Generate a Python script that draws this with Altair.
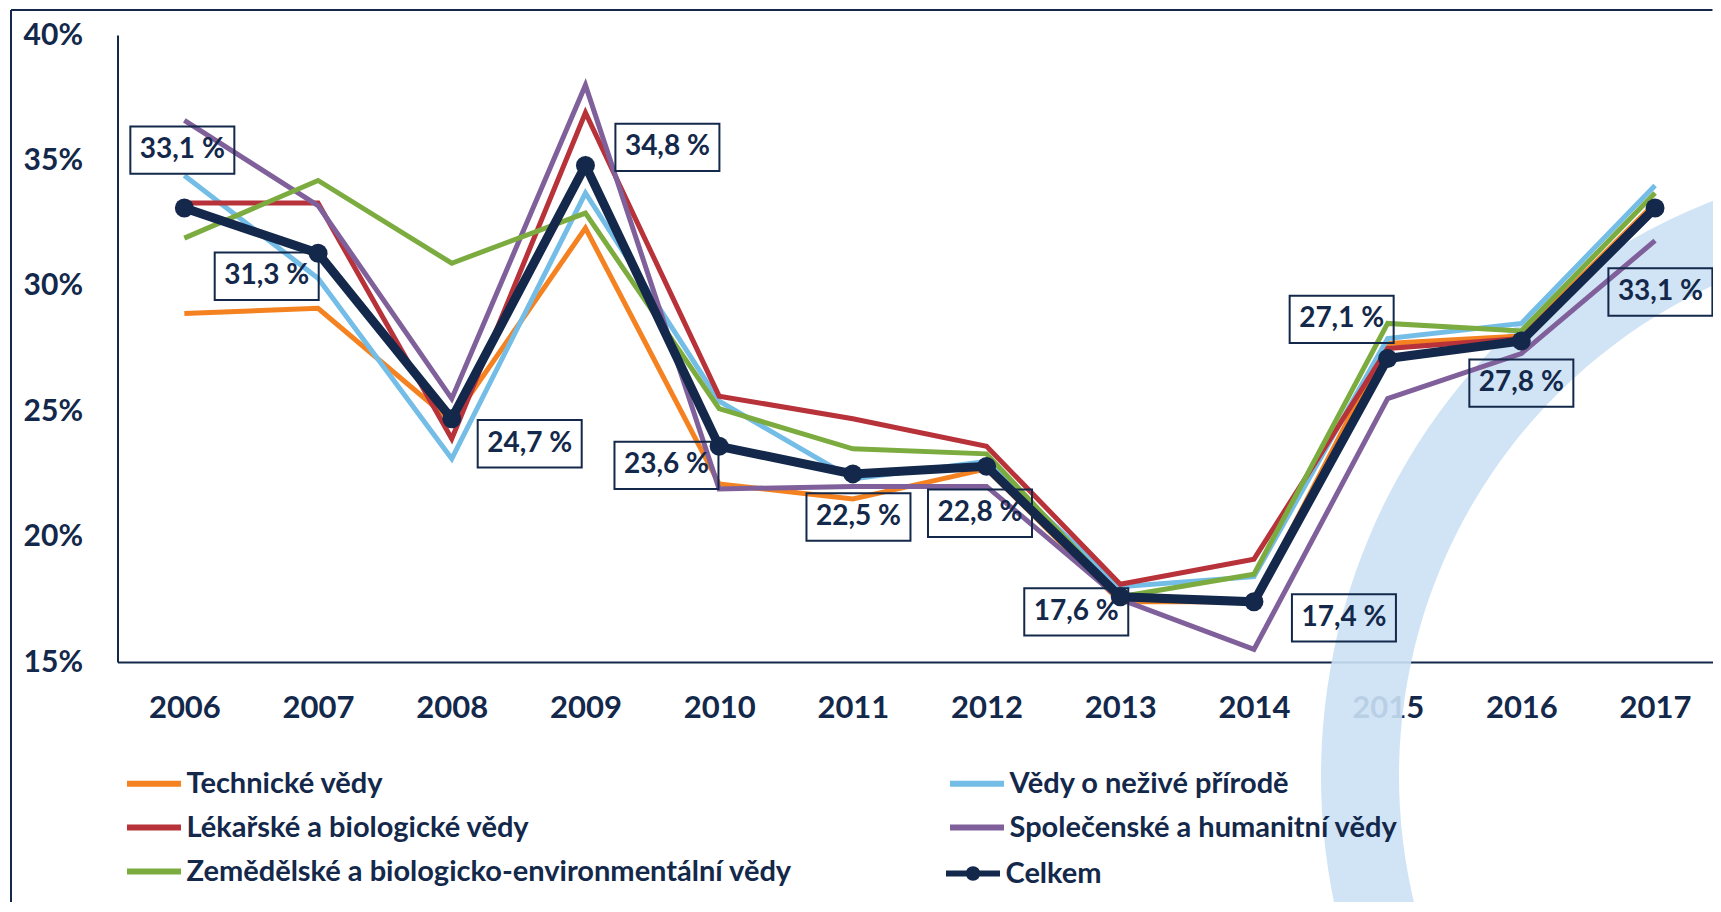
import altair as alt
import pandas as pd

# ---------------- data ----------------
years = list(range(2006, 2018))
series_names = [
    "Technické vědy",
    "Vědy o neživé přírodě",
    "Lékařské a biologické vědy",
    "Společenské a humanitní vědy",
    "Zemědělské a biologicko-environmentální vědy",
]
technicke = [28.9, 29.1, 24.6, 32.3, 22.1, 21.5, 22.7, 17.4, 17.4, 27.7, 28.0, 33.3]
nezive = [34.4, 30.3, 23.1, 33.7, 25.4, 22.3, 23.0, 18.0, 18.4, 27.9, 28.5, 34.0]
lekarske = [33.3, 33.3, 23.9, 36.9, 25.6, 24.7, 23.6, 18.1, 19.1, 27.5, 27.9, 33.2]
spolecenske = [36.6, 33.2, 25.5, 38.0, 21.9, 22.0, 22.0, 17.5, 15.5, 25.5, 27.3, 31.8]
zemedelske = [31.9, 34.2, 30.9, 32.9, 25.1, 23.5, 23.3, 17.6, 18.5, 28.5, 28.2, 33.7]
celkem = [33.1, 31.3, 24.7, 34.8, 23.6, 22.5, 22.8, 17.6, 17.4, 27.1, 27.8, 33.1]
celkem_labels = ["33,1 %", "31,3 %", "24,7 %", "34,8 %", "23,6 %", "22,5 %",
                 "22,8 %", "17,6 %", "17,4 %", "27,1 %", "27,8 %", "33,1 %"]
y_ticks = [15, 20, 25, 30, 35, 40]

# label box placement relative to each point (in data units: years, percent points)
label_dx = [-0.015, -0.384, 0.583, 0.613, -0.394, 0.042, -0.049, -0.329, 0.673, -0.344, 0.0, 0.04]
label_dy = [2.31, -0.92, -1.0, 0.72, -0.76, -1.72, -1.87, -0.6, -0.64, 1.56, -1.68, -3.35]

# ---------------- styles ----------------
NAVY = "#13284A"
colors = ["#F58220", "#74BDE6", "#B8323A", "#80609A", "#7CAC3F"]
FONT = "Lato"

all_series = [technicke, nezive, lekarske, spolecenske, zemedelske]
rows = []
for name, vals in zip(series_names, all_series):
    for yr, v in zip(years, vals):
        rows.append({"obor": name, "rok": yr, "hodnota": v})
df_lines = pd.DataFrame(rows)

df_total = pd.DataFrame({
    "nazev": ["Celkem"] * len(years),
    "rok": years,
    "hodnota": celkem,
    "popis": celkem_labels,
    "dx": label_dx,
    "dy": label_dy,
})

W, H = 1595, 627
STEP = 133.7
x_scale = alt.Scale(domain=[2005.5, 2005.5 + W / STEP], nice=False, zero=False)
y_scale = alt.Scale(domain=[15, 40], nice=False, zero=False)

x_enc = alt.X("rok:Q", scale=x_scale, axis=alt.Axis(
    values=years, format="d", title=None, grid=False, ticks=False,
    labelFont=FONT, labelFontSize=31, labelFontWeight="bold", labelColor=NAVY,
    labelBaseline="middle", labelPadding=46, labelFlush=False,
    domainColor=NAVY, domainWidth=2))
y_enc = alt.Y("hodnota:Q", scale=y_scale, axis=alt.Axis(
    values=y_ticks, labelExpr="datum.value + '%'", title=None, grid=False, ticks=False,
    labelFont=FONT, labelFontSize=30, labelFontWeight="bold", labelColor=NAVY,
    labelAlign="right", labelBaseline="middle", labelPadding=35,
    domainColor=NAVY, domainWidth=2))

LEG_FONT_SIZE = 29
lines = alt.Chart(df_lines).mark_line(strokeWidth=5).encode(
    x=x_enc, y=y_enc,
    color=alt.Color("obor:N", scale=alt.Scale(domain=series_names, range=colors),
                    legend=alt.Legend(
                        title=None, orient="none", legendX=20, legendY=732,
                        direction="horizontal", columns=2, columnPadding=145,
                        rowPadding=12,
                        symbolType="M-2,0H2", symbolSize=729, symbolStrokeWidth=6,
                        labelFont=FONT, labelFontSize=LEG_FONT_SIZE, labelFontWeight="bold",
                        labelColor=NAVY, labelOffset=16, labelLimit=1000)),
)

celkem_path = "M-2,0H-0.32A0.32,0.32 0 1,1 0.32,0A0.32,0.32 0 1,1 -0.32,0M0.32,0H2"
total_color = alt.Color("nazev:N", scale=alt.Scale(domain=["Celkem"], range=[NAVY]),
                        legend=alt.Legend(
                            title=None, orient="none", legendX=839, legendY=822,
                            symbolType=celkem_path, symbolSize=729, symbolStrokeWidth=6,
                            symbolFillColor=NAVY, symbolStrokeColor=NAVY,
                            labelFont=FONT, labelFontSize=LEG_FONT_SIZE, labelFontWeight="bold",
                            labelColor=NAVY, labelOffset=16))
total_line = alt.Chart(df_total).mark_line(strokeWidth=9).encode(
    x=x_enc, y=y_enc, color=total_color)
total_pts = alt.Chart(df_total).mark_circle(size=360, opacity=1).encode(
    x=x_enc, y=y_enc, color=total_color)
total = alt.layer(total_line, total_pts)

lab_base = alt.Chart(df_total).transform_calculate(
    lx="datum.rok + datum.dx", ly="datum.hodnota + datum.dy")
box_path = "M-1,-0.456H1V0.456H-1Z"
boxes = lab_base.mark_point(shape=box_path, size=10816, filled=False,
                            stroke=NAVY, strokeWidth=2, opacity=1).encode(
    x=alt.X("lx:Q", scale=x_scale), y=alt.Y("ly:Q", scale=y_scale))
texts = lab_base.mark_text(font=FONT, fontSize=28, fontWeight="bold", color=NAVY,
                           align="center", baseline="middle").encode(
    x=alt.X("lx:Q", scale=x_scale), y=alt.Y("ly:Q", scale=y_scale), text="popis:N")

deco_src = alt.Chart(pd.DataFrame({"k": [0]}))
# decorative background ring (logo watermark)
ring = deco_src.mark_arc(color="#CBE1F5", opacity=0.9).encode(
    x=alt.value(1821.5), y=alt.value(741),
    radius=alt.value(618), radius2=alt.value(540),
    theta=alt.value(4.2), theta2=alt.value(6.29))
frame_top = deco_src.mark_rule(color=NAVY, strokeWidth=2).encode(
    x=alt.value(-106.5), x2=alt.value(W), y=alt.value(-25))
frame_left = deco_src.mark_rule(color=NAVY, strokeWidth=2).encode(
    x=alt.value(-106.5), y=alt.value(-25), y2=alt.value(H + 250))

chart = alt.layer(
    ring, frame_top, frame_left, lines, total, boxes, texts
).resolve_scale(color="independent").properties(
    width=W, height=H,
    padding={"left": 109.5, "top": 27, "right": 0, "bottom": 240},
    autosize=alt.AutoSizeParams(type="none"),
    background="white",
).configure_view(stroke=None)

chart.save("out.html", embed_options={"renderer": "svg", "actions": False})
